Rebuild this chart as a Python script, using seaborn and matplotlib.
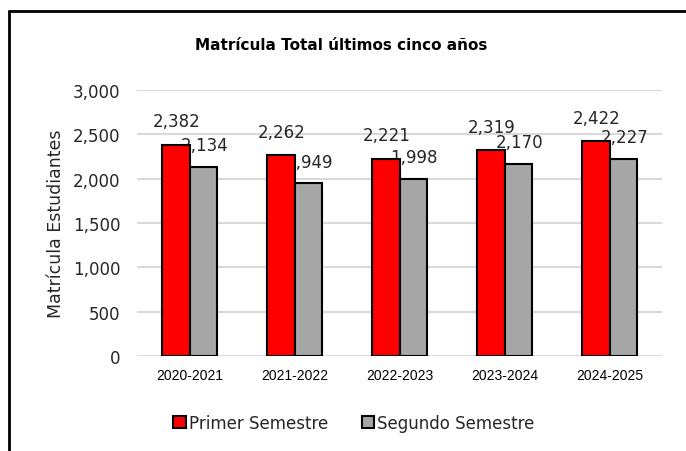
import numpy as np
import pandas as pd
import matplotlib
matplotlib.use("Agg")
import matplotlib.pyplot as plt
from matplotlib.lines import Line2D
import seaborn as sns

# ── Dados ─────────────────────────────────────────────────────────────────────
periodos = ["2020-2021", "2021-2022", "2022-2023", "2023-2024", "2024-2025"]
primer   = [2382, 2262, 2221, 2319, 2422]
segundo  = [2134, 1949, 1998, 2170, 2227]
series   = ["Primer Semestre", "Segundo Semestre"]

TEXT    = "#262626"
C_GRID  = "#d9d9d9"
COLORS  = {"Primer Semestre": "#ff0000", "Segundo Semestre": "#a6a6a6"}
OFFSETS = [17, 15.5]   # deslocamento (pt) dos rótulos por série

df = pd.DataFrame({
    "Periodo":  periodos * 2,
    "Semestre": [series[0]] * len(periodos) + [series[1]] * len(periodos),
    "Valor":    primer + segundo,
})

sns.set_style("white")
plt.rcParams["font.family"] = ["DejaVu Sans"]

fig = plt.figure(figsize=(6.86, 4.52), dpi=100, facecolor="white")
ax = fig.add_axes([137 / 686, 1 - 357 / 452, 525 / 686, (357 - 91) / 452])

sns.barplot(
    data=df, x="Periodo", y="Valor", hue="Semestre", order=periodos,
    hue_order=series, palette=COLORS, width=0.52, dodge=True,
    edgecolor="black", linewidth=1.5, saturation=1, ax=ax, legend=False,
    zorder=3,
)

ax.set_ylim(0, 3000)
ax.set_xlim(-0.5, len(periodos) - 0.5)
ax.set_yticks(np.arange(0, 3001, 500))
ax.yaxis.set_major_formatter(matplotlib.ticker.FuncFormatter(lambda v, p: f"{int(v):,}"))
ax.set_axisbelow(True)
ax.grid(axis="y", color=C_GRID, linewidth=1.5, zorder=0)
ax.grid(axis="x", visible=False)
for s in ax.spines.values():
    s.set_visible(False)

ax.tick_params(axis="y", length=0, pad=12, labelsize=12, colors=TEXT)
ax.tick_params(axis="x", length=0, pad=9, labelsize=10, colors="black")
for lbl in ax.get_xticklabels():
    lbl.set_fontfamily("Liberation Sans")
ax.set_xlabel("")
ax.set_ylabel("Matrícula Estudiantes", fontsize=12.5, color=TEXT, labelpad=6)

# rótulos de valores (por baixo das barras, como no original)
for cont, off in zip(ax.containers, OFFSETS):
    for bar in cont:
        h = bar.get_height()
        ax.annotate(
            f"{int(h):,}", xy=(bar.get_x() + bar.get_width() / 2 + 0.01, h),
            xytext=(0, off), textcoords="offset points",
            ha="center", va="center", fontsize=12, color=TEXT, zorder=1,
        )

handles = [
    plt.Rectangle((0, 0), 1, 1, facecolor=COLORS[s], edgecolor="black", linewidth=1.5)
    for s in series
]
fig.legend(
    handles, series, loc="center", bbox_to_anchor=(0.516, 0.062), ncol=2,
    frameon=False, fontsize=12, handlelength=0.75, handleheight=0.75,
    handletextpad=0.2, columnspacing=2.0, labelcolor=TEXT,
)

fig.text(0.497, 1 - 45 / 452, "Matrícula Total últimos cinco años",
         ha="center", va="center", fontsize=11, fontweight="bold", color="black")

# moldura do gráfico (apenas esquerda e topo visíveis)
x0, y0 = 9 / 686, 1 - 12 / 452
fig.add_artist(Line2D([x0, x0], [0, y0], transform=fig.transFigure, color="black", linewidth=2))
fig.add_artist(Line2D([x0, 1], [y0, y0], transform=fig.transFigure, color="black", linewidth=2))

fig.savefig("out.png", dpi=100, facecolor="white")
